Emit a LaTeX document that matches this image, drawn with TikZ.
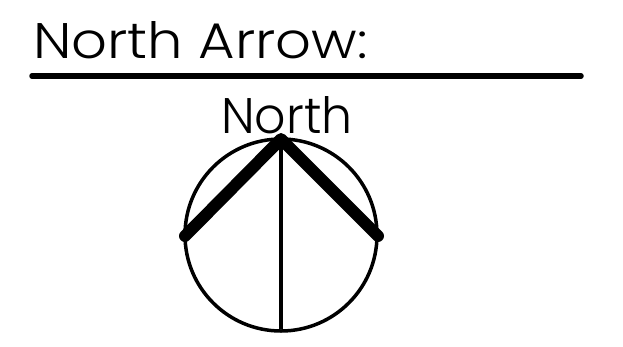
\documentclass[tikz,border=0pt]{standalone}
\usepackage{fontspec}
\setmainfont{Poppins Light}
\begin{document}
\begin{tikzpicture}[x=1pt,y=-1pt]
        \useasboundingbox (0,0) rectangle (623,346);
        \coordinate (ruleL) at (32,76);
        \coordinate (ruleR) at (581,76);
        \coordinate (top) at (281,139);
        \coordinate (left) at (185,236);
        \coordinate (right) at (378,236);
        \coordinate (bottom) at (281,329);

        \draw[line width=5.5pt, line cap=round] (ruleL) -- (ruleR);
        \draw[line width=3.5pt] (281,235) circle (96pt);
        \draw[line width=3.5pt] (top) -- (bottom);
        \draw[line width=12pt, line cap=round, line join=round] (left) -- (top) -- (right);

        \node[anchor=base west, font=\fontsize{50}{50}\selectfont, inner sep=0pt, xscale=1.12, transform shape] (title) at (33,58) {North Arrow:};
        \node[anchor=base, font=\fontsize{50}{50}\selectfont, inner sep=0pt, xscale=.98, transform shape] (north) at (287,133) {North};
    \end{tikzpicture}
\end{document}
